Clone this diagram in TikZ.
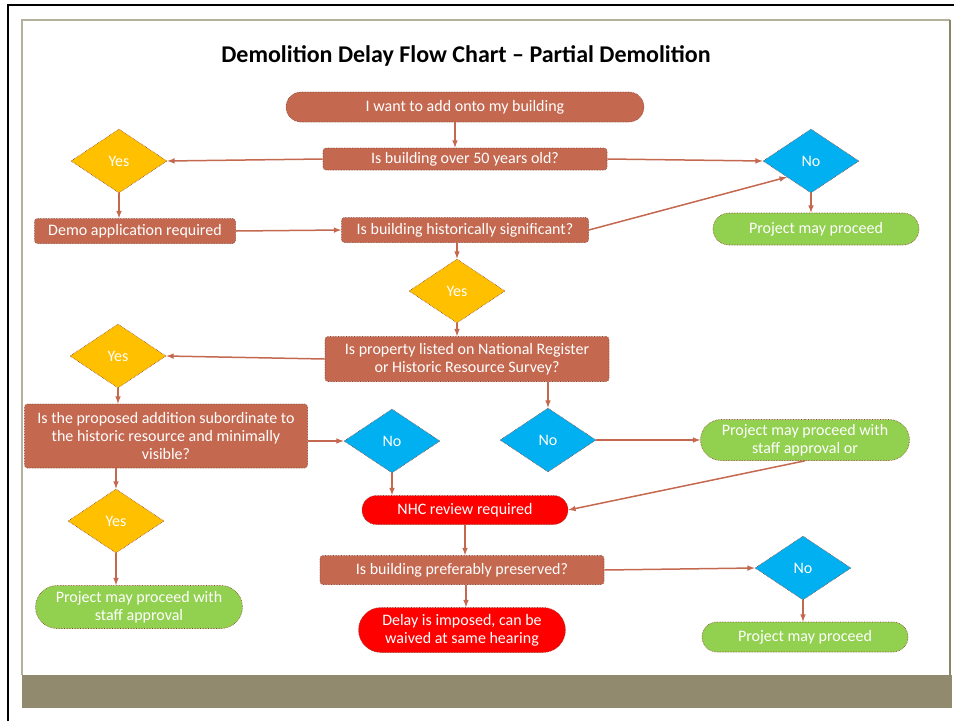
\documentclass[tikz,border=0pt]{standalone}
\usepackage{fontspec}
\setmainfont{Carlito}
\usepackage{tikz}
\usetikzlibrary{shapes.geometric,shapes.misc,arrows,calc}

\definecolor{brick}{HTML}{C46850}
\definecolor{brickdark}{HTML}{8B4433}
\definecolor{qyellow}{HTML}{FFC000}
\definecolor{qblue}{HTML}{00B0F0}
\definecolor{okgreen}{HTML}{92D050}
\definecolor{stopred}{HTML}{FF0000}
\definecolor{framegray}{HTML}{B4B09C}
\definecolor{framedark}{HTML}{8A8468}
\definecolor{band}{HTML}{918A6E}

\tikzset{
  flow schemes/.style = {
    x = 1pt, y = -1pt,
    font = \fontsize{16}{18}\selectfont,
    % base block
    fb/.style   = {
      draw=brickdark, densely dotted,
      line width=0.6pt, text=white,
      align=center, inner sep=1pt
    },
    dims/.style 2 args = {minimum width=##1, minimum height=##2},
    % questions, ends, answers
    qbox/.style = { fb, rectangle, rounded corners=3pt, fill=brick },
    term/.style = { fb, rounded rectangle, fill=##1 },
    yes/.style  = { fb, diamond, aspect=1.5, inner sep=0pt,
                    dims={96pt}{64pt}, fill=qyellow },
    no/.style   = { yes, fill=qblue },
    % lines
    connect line/.style = {line width = 1.5pt, brick, -latex},
  }
}

\begin{document}
\begin{tikzpicture}[flow schemes]
\useasboundingbox (0,0) rectangle (954,721);

% frame
\draw[line width=2.5pt] (8,721) -- (8,5) -- (954,5);
\fill[band] (22,675) rectangle (952,708);
\draw[framegray, line width=1.5pt] (22,675) -- (22,20) -- (950,20);
\draw[framedark, line width=1.5pt] (950,20) -- (950,675);

\node[font=\bfseries\fontsize{24}{28}\selectfont] (title) at (466,56)
  {Demolition Delay Flow Chart – Partial Demolition};

\node[term=brick, dims={360pt}{30pt}] (start) at (465,107) {I want to add onto my building};
\node[qbox, dims={284pt}{22pt}] (qold)    at (465,159) {Is building over 50 years old?};
\node[yes] (yesold) at (119,161) {Yes};
\node[no]  (noold)  at (811,161) {No};
\node[qbox, dims={201pt}{25pt}] (demo)    at (135,231) {Demo application required};
\node[qbox, dims={247pt}{25pt}] (qsig)    at (465,230) {Is building historically significant?};
\node[term=okgreen, dims={208pt}{32pt}] (okfirst) at (816,229) {Project may proceed};

\node[yes] (yessig) at (457,291) {Yes};
\node[qbox, dims={284pt}{45pt}] (qlist)   at (467,359)
  {Is property listed on National Register\\or Historic Resource Survey?};
\node[yes] (yeslist) at (118,356) {Yes};
\node[qbox, dims={283pt}{64pt}] (qsub)    at (166,436)
  {Is the proposed addition subordinate to\\the historic resource and minimally\\visible?};
\node[no]  (nosub)  at (392,441) {No};
\node[no]  (nolist) at (548,440) {No};
\node[term=okgreen, dims={211pt}{41pt}] (okstaff) at (805,440)
  {Project may proceed with\\staff approval or};
\node[term=stopred, dims={208pt}{29pt}] (nhc) at (465,510) {NHC review required};
\node[yes] (yessub) at (116,521) {Yes};
\node[qbox, dims={284pt}{29pt}] (qpres)   at (462,570) {Is building preferably preserved?};
\node[term=stopred, dims={209pt}{45pt}] (delay) at (462,630)
  {Delay is imposed, can be\\waived at same hearing};
\node[no]  (nopres) at (803,568) {No};
\node[term=okgreen, dims={208pt}{30pt}] (oklast) at (805,637) {Project may proceed};
\node[term=okgreen, dims={209pt}{43pt}] (okapproval) at (139,607)
  {Project may proceed with\\staff approval};

\draw[connect line] ([xshift=-10pt]start.south) -- ([xshift=-10pt]qold.north);
\draw[connect line] (qold.west) -- (yesold.east);
\draw[connect line] (qold.east) -- (noold.west);
\draw[connect line] (yesold.south) -- (yesold.south |- demo.north);
\draw[connect line] (demo.east) -- (qsig.west);
\draw[connect line] (qsig.east) -- (noold.south west);
\draw[connect line] (noold.south) -- (noold.south |- okfirst.north);
\draw[connect line] (qsig.south -| yessig.north) -- (yessig.north);
\draw[connect line] (yessig.south) -- (yessig.south |- qlist.north);
\draw[connect line] (qlist.west) -- (yeslist.east);
\draw[connect line] (yeslist.south) -- (yeslist.south |- qsub.north);
\draw[connect line] (qlist.south -| nolist.north) -- (nolist.north);
\draw[connect line] (qsub.east |- nosub.west) -- (nosub.west);
\draw[connect line] (nolist.east) -- (okstaff.west);
\draw[connect line] (nosub.south) -- (nosub.south |- nhc.north);
\draw[connect line] (okstaff.south) -- (nhc.east);
\draw[connect line] (qsub.south -| yessub.north) -- (yessub.north);
\draw[connect line] (yessub.south) -- (yessub.south |- okapproval.north);
\draw[connect line] (nhc.south) -- (nhc.south |- qpres.north);
\draw[connect line] (qpres.east) -- (nopres.west);
\draw[connect line] ([xshift=4pt]qpres.south) -- ([xshift=4pt]delay.north);
\draw[connect line] (nopres.south) -- (nopres.south |- oklast.north);

\end{tikzpicture}
\end{document}
